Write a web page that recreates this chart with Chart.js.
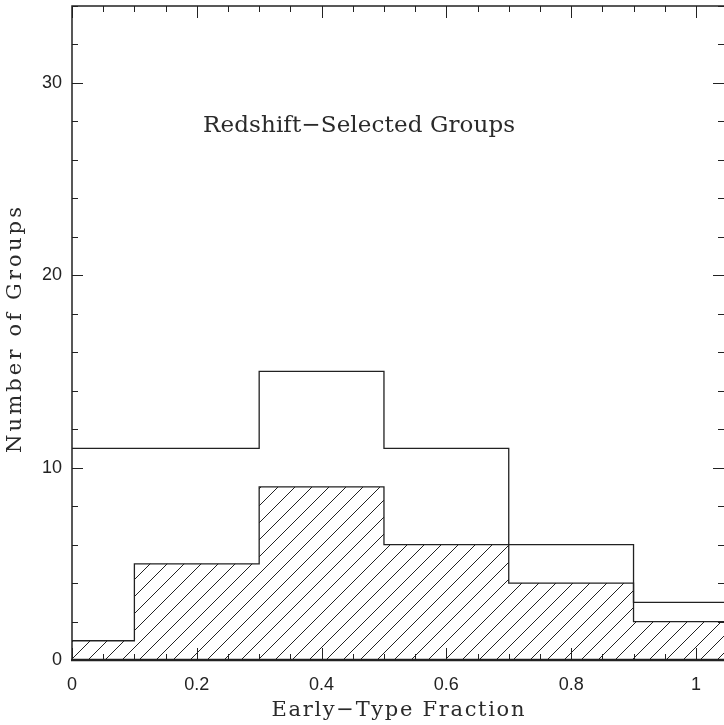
<!DOCTYPE html>
<html>
<head>
<meta charset="utf-8">
<script src="https://cdn.jsdelivr.net/npm/chart.js@4/dist/chart.umd.min.js"></script>
<style>
  body { margin: 0; background: #fff; }
  #wrap { width: 724px; height: 725px; }
</style>
</head>
<body>
<div id="wrap"><canvas id="histo"></canvas></div>
<script>
// histogram bins (centre of each 0.2 wide bin) and counts
const binCenters = [0, 0.2, 0.4, 0.6, 0.8, 1.0]
const binWidth = 0.2
const allGroups = [11, 11, 15, 11, 6, 3]
const earlyGroups = [1, 5, 9, 6, 4, 2]

const xTicks = [0, 0.2, 0.4, 0.6, 0.8, 1]
const yTicks = [0, 10, 20, 30]
const xMinorStep = 0.05
const yMinorStep = 2

const panelLabel = "Redshift\u2212Selected Groups"
const xTitle = "Early\u2212Type Fraction"
const yTitle = "Number of Groups"

const ink = "#222"
const serif = "'DejaVu Serif', serif"

// step points at left bin edges, plus closing edge
function steps(counts) {
  let pts = binCenters.map((c, i) => ({ x: c - binWidth / 2, y: counts[i] }))
  let last = binCenters.length - 1
  pts.push({ x: binCenters[last] + binWidth / 2, y: counts[last] })
  return pts
}

let ctx = document.getElementById("histo").getContext("2d")

function hatch() {
  let c = document.createElement("canvas")
  c.width = 17
  c.height = 17
  let g = c.getContext("2d")
  g.strokeStyle = ink
  g.lineWidth = 1
  g.beginPath()
  g.moveTo(-2, 19)
  g.lineTo(19, -2)
  g.stroke()
  return ctx.createPattern(c, "repeat")
}

// the old plot font is wide and evenly spaced, so stretch text to a width
function wideText(g, text, size, width, x, y, align) {
  g.font = size + "px " + serif
  g.letterSpacing = "0px"
  let w0 = g.measureText(text).width
  let ls = Math.max(0, (width - w0) / (text.length - 1))
  g.letterSpacing = ls.toFixed(2) + "px"
  let start = align === "center" ? x - width / 2 : x
  g.textAlign = "left"
  g.fillText(text, start, y)
  g.letterSpacing = "0px"
}

// frame, inward ticks, titles and the panel label
const framePlugin = {
  id: "frame",
  afterDatasetsDraw(chart) {
    let a = chart.chartArea
    let x = chart.scales.x
    let y = chart.scales.y
    let g = chart.ctx
    g.save()
    g.strokeStyle = ink

    g.lineWidth = 1
    for (let v = 0; v <= x.max + 1e-9; v += xMinorStep) {
      let px = Math.round(x.getPixelForValue(v)) + 0.5
      let major = xTicks.some(t => Math.abs(t - v) < 1e-6)
      let len = major ? 12 : 6
      g.beginPath()
      g.moveTo(px, a.bottom); g.lineTo(px, a.bottom - len)
      g.moveTo(px, a.top); g.lineTo(px, a.top + len)
      g.stroke()
    }
    for (let v = 0; v <= y.max + 1e-9; v += yMinorStep) {
      let py = Math.round(y.getPixelForValue(v)) + 0.5
      let major = yTicks.includes(v)
      let len = major ? 11 : 6
      g.beginPath()
      g.moveTo(a.left, py); g.lineTo(a.left + len, py)
      g.moveTo(a.right, py); g.lineTo(a.right - len, py)
      g.stroke()
    }

    g.lineWidth = 1.5
    g.beginPath()
    g.moveTo(a.left, a.bottom); g.lineTo(a.left, a.top)
    g.lineTo(a.right, a.top)
    g.stroke()
    g.lineWidth = 2.5
    g.beginPath()
    g.moveTo(a.left - 1, a.bottom); g.lineTo(a.right, a.bottom)
    g.stroke()

    g.fillStyle = "#2a2a2a"
    g.textBaseline = "alphabetic"
    wideText(g, panelLabel, 23, 312, x.getPixelForValue(0.21), y.getPixelForValue(27.45), "left")
    wideText(g, xTitle, 21, 253, (a.left + a.right) / 2, a.bottom + 56, "center")

    g.save()
    g.translate(21, (a.top + a.bottom) / 2 - 3)
    g.rotate(-Math.PI / 2)
    wideText(g, yTitle, 21, 246, 0, 0, "center")
    g.restore()

    g.restore()
  },
}

let chart = new Chart(ctx, {
  type: "line",
  data: {
    datasets: [
      {
        label: "All",
        data: steps(allGroups),
        stepped: true,
        fill: false,
        borderColor: ink,
        borderWidth: 1.3,
        pointRadius: 0,
      },
      {
        label: "Early",
        data: steps(earlyGroups),
        stepped: true,
        fill: "origin",
        backgroundColor: hatch(),
        borderColor: ink,
        borderWidth: 1.3,
        pointRadius: 0,
      },
    ],
  },
  options: {
    responsive: true,
    maintainAspectRatio: false,
    animation: false,
    layout: {
      padding: { left: 0, right: 0, top: 6, bottom: 0 },
    },
    plugins: {
      legend: { display: false },
      tooltip: { enabled: false },
    },
    scales: {
      x: {
        type: "linear",
        min: 0,
        max: 1.045,
        afterFit: s => {
          s.height = 65
          s.paddingLeft = 0
          s.paddingRight = 0
        },
        afterBuildTicks: s => { s.ticks = xTicks.map(v => ({ value: v })) },
        grid: { display: false, drawTicks: false },
        border: { display: false },
        ticks: {
          padding: 14,
          color: ink,
          font: { family: "'Liberation Sans', Arial", size: 18 },
          maxRotation: 0,
          callback: v => String(Math.round(v * 10) / 10),
        },
      },
      y: {
        min: 0,
        max: 34,
        afterFit: s => {
          s.width = 72
          s.paddingTop = 0
          s.paddingBottom = 0
        },
        afterBuildTicks: s => { s.ticks = yTicks.map(v => ({ value: v })) },
        grid: { display: false, drawTicks: false },
        border: { display: false },
        ticks: {
          padding: 10,
          color: ink,
          font: { family: "'Liberation Sans', Arial", size: 18 },
        },
      },
    },
  },
  plugins: [framePlugin],
})
</script>
</body>
</html>
